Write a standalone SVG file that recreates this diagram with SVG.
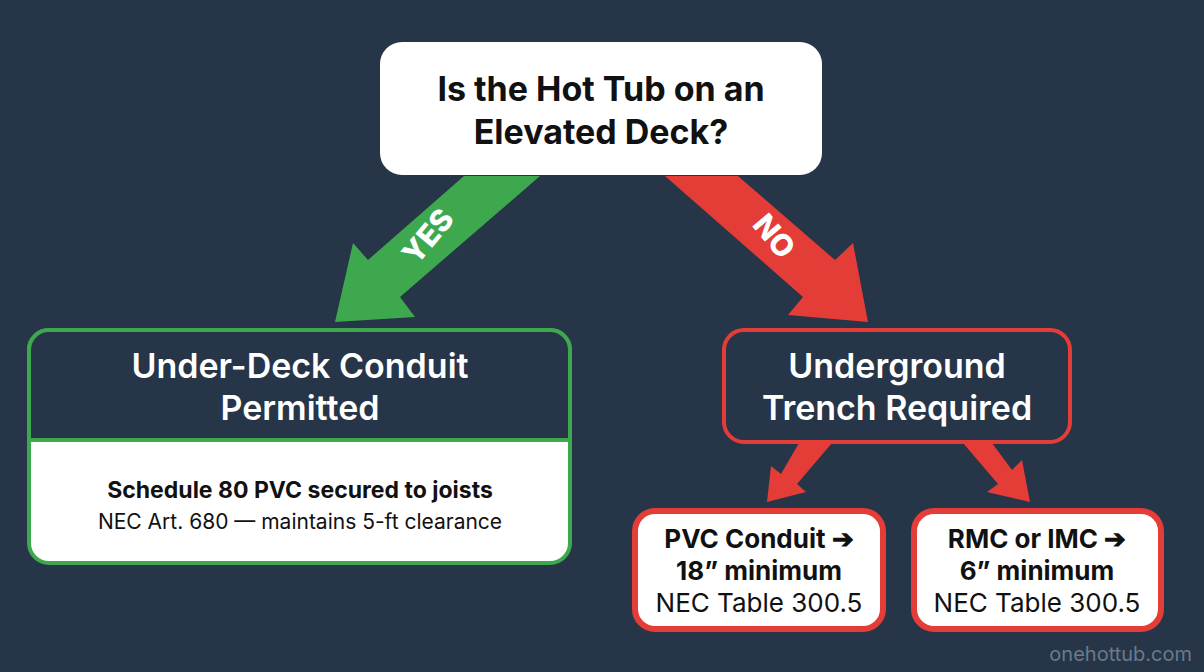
<svg xmlns="http://www.w3.org/2000/svg" width="1204" height="672" viewBox="0 0 1204 672">
<style>
text{font-family:Inter,"Liberation Sans",sans-serif;text-anchor:middle}
.t{font-weight:700;font-size:34px;fill:#111}
.h{font-weight:600;font-size:34px;fill:#fff}
.b{font-weight:700;font-size:23px;fill:#111}
.r{font-size:21px;fill:#111}
.sb{font-weight:700;font-size:26px;fill:#111}
.sr{font-size:26px;fill:#111}
.lbl{font-weight:800;font-size:30px;fill:#fff}
</style>
<rect width="1204" height="672" fill="#263548"/>
<g id="connectors">
<polygon points="464,176 540,176 400,297 415,317 335,322 353,243 368,260" fill="#3ea84f"/>
<polygon points="665,176 738,176 835,260 853,243 868,322 788,315 803,297" fill="#e43c37"/>
<polygon points="799,443 832,443 797,484 806,492 767,502 771,466 781,474" fill="#e43c37"/>
<polygon points="963,443 992,443 1012,470 1022,460 1030,502 987,492 998,484" fill="#e43c37"/>
<text class="lbl" transform="translate(436,243) rotate(-50)">YES</text>
<text class="lbl" transform="translate(766,243) rotate(50)">NO</text>
</g>
<g id="question">
<rect x="380" y="42" width="442" height="133" rx="22" fill="#fff"/>
<text class="t" x="601" y="101">Is the Hot Tub on an</text>
<text class="t" x="601" y="144">Elevated Deck?</text>
</g>
<g id="underdeck">
<rect x="29" y="330" width="541" height="233" rx="20" fill="#fff" stroke="#3ea84f" stroke-width="4"/>
<path d="M49,330 H550 A20,20 0 0 1 570,350 V440 H29 V350 A20,20 0 0 1 49,330 Z" fill="#263548" stroke="#3ea84f" stroke-width="4"/>
<text class="h" x="300" y="378">Under-Deck Conduit</text>
<text class="h" x="300" y="420">Permitted</text>
<text class="b" x="300" y="498">Schedule 80 PVC secured to joists</text>
<text class="r" x="300" y="529">NEC Art. 680 — maintains 5-ft clearance</text>
</g>
<g id="trench">
<rect x="724" y="330" width="346" height="112" rx="20" fill="#263548" stroke="#e43c37" stroke-width="4"/>
<text class="h" x="897" y="378">Underground</text>
<text class="h" x="897" y="420">Trench Required</text>
</g>
<g id="pvc">
<rect x="635" y="511" width="248" height="118" rx="20" fill="#fff" stroke="#e43c37" stroke-width="6"/>
<text class="sb" x="759" y="548">PVC Conduit ➔</text>
<text class="sb" x="759" y="580">18” minimum</text>
<text class="sr" x="759" y="612">NEC Table 300.5</text>
</g>
<g id="rmc">
<rect x="914" y="511" width="247" height="118" rx="20" fill="#fff" stroke="#e43c37" stroke-width="6"/>
<text class="sb" x="1037" y="548">RMC or IMC ➔</text>
<text class="sb" x="1037" y="580">6” minimum</text>
<text class="sr" x="1037" y="612">NEC Table 300.5</text>
</g>
<text x="1192" y="661" style="text-anchor:end;font-size:20px;fill:#6b7a8c">onehottub.com</text>
</svg>
